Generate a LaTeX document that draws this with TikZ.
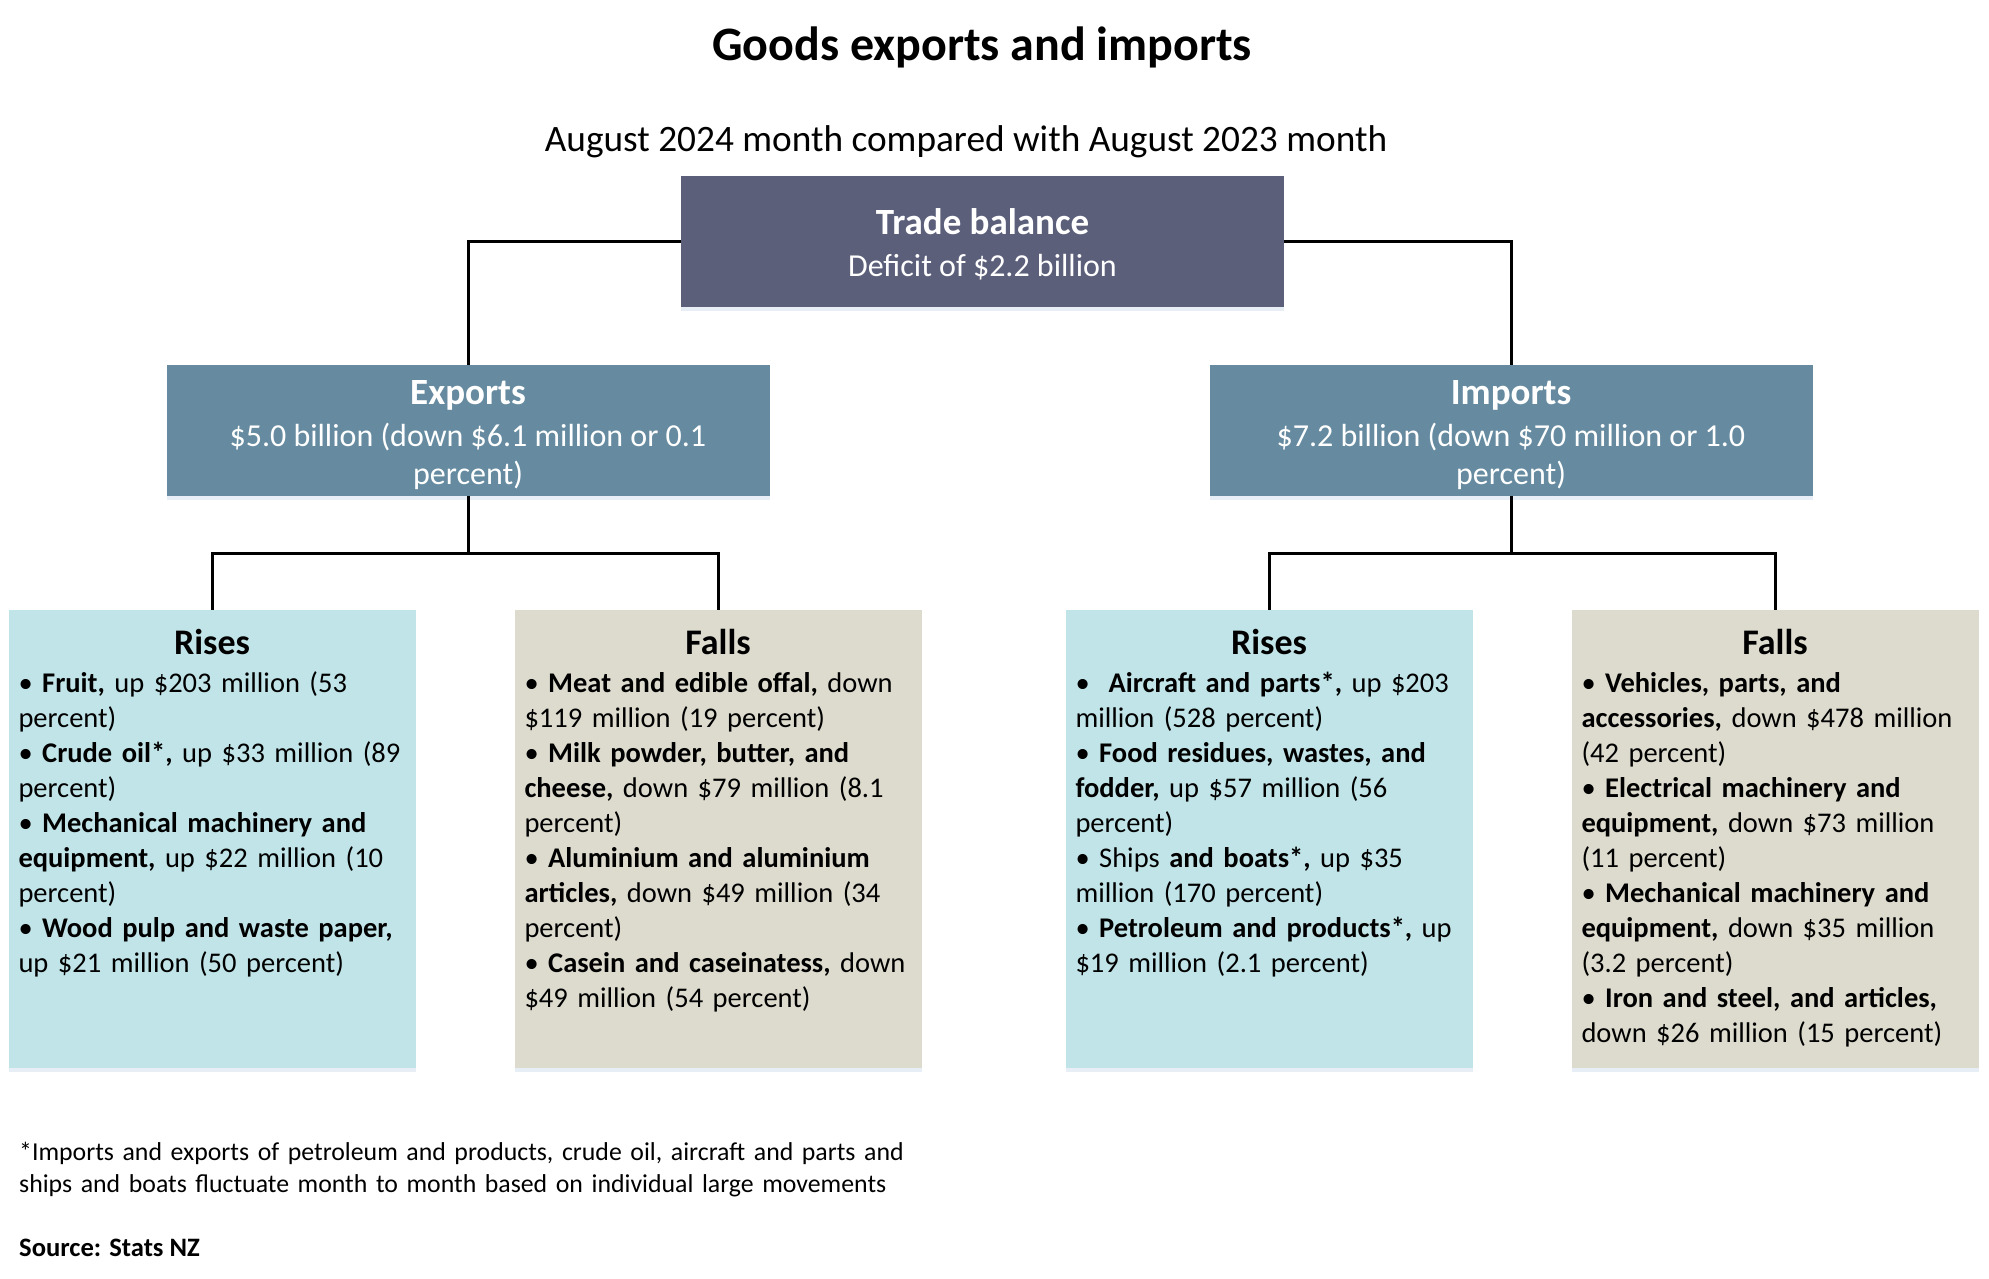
\documentclass[tikz,border=0pt]{standalone}
\usepackage{fontspec}
\setmainfont{Carlito}
\usetikzlibrary{positioning, calc, shadows}

\definecolor{tradeSlate}{HTML}{5B5F7A}
\definecolor{flowSteel}{HTML}{668BA0}
\definecolor{riseCyan}{HTML}{C0E4E8}
\definecolor{fallStone}{HTML}{DDDBCE}
\definecolor{glowBlue}{HTML}{B9CFE3}

\newcommand{\boxtitle}[1]{{\fontsize{37}{38}\selectfont\bfseries #1}}

\tikzset{
  boxglow/.style={drop shadow={shadow xshift=0pt, shadow yshift=-4pt, opacity=0.35, fill=glowBlue}},
  sumbox/.style={rectangle, fill=#1, boxglow, minimum width=603pt, minimum height=131pt, inner sep=0pt},
  sumtext/.style={inner sep=0pt, text=white, align=center, font=\fontsize{32}{38}\selectfont},
  listbox/.style={rectangle, fill=#1, boxglow, minimum width=407pt, minimum height=458pt, inner sep=0pt},
  boxhead/.style={anchor=base, inner sep=0pt, font=\fontsize{36}{43}\selectfont\bfseries},
  itemlist/.style={anchor=base west, inner sep=0pt, text width=398pt, align=left,
    font=\fontsize{28.5}{35}\selectfont},
  link/.style={draw=black, line width=3pt}
}

\begin{document}
\begin{tikzpicture}[x=1pt, y=-1pt]
    \useasboundingbox (0,0) rectangle (1989,1278);

    % Titles
    \node[anchor=base, inner sep=0pt, font=\fontsize{48}{58}\selectfont\bfseries] (title) at (982,60) {Goods exports and imports};
    \node[anchor=base, inner sep=0pt, font=\fontsize{37.3}{44}\selectfont] (subtitle) at (966,151) {August 2024 month compared with August 2023 month};

    % Summary boxes
    \node[sumbox=tradeSlate] (trade) at (982.5,241.5) {};
    \node[sumbox=flowSteel] (exports) at (468,430.5) {};
    \node[sumbox=flowSteel] (imports) at (1511,430.5) {};
    \node[sumtext] (tradeText) at ($(trade)+(0,3)$) {\boxtitle{Trade balance}\\[4pt] Deficit of \$2.2 billion};
    \node[sumtext] (exportsText) at ($(exports)+(0,4.5)$) {\boxtitle{Exports}\\[4pt] \$5.0 billion (down \$6.1 million or 0.1\\ percent)};
    \node[sumtext] (importsText) at ($(imports)+(0,4.5)$) {\boxtitle{Imports}\\[4pt] \$7.2 billion (down \$70 million or 1.0\\ percent)};

    % Detail boxes
    \node[listbox=riseCyan] (expRise) at (212,839) {};
    \node[listbox=fallStone] (expFall) at (718,839) {};
    \node[listbox=riseCyan] (impRise) at (1269,839) {};
    \node[listbox=fallStone] (impFall) at (1775,839) {};

    \node[boxhead] (expRiseHead) at ($(expRise.north)+(0,45)$) {Rises};
    \node[boxhead] (expFallHead) at ($(expFall.north)+(0,45)$) {Falls};
    \node[boxhead] (impRiseHead) at ($(impRise.north)+(0,45)$) {Rises};
    \node[boxhead] (impFallHead) at ($(impFall.north)+(0,45)$) {Falls};

    \node[itemlist] (expRiseList) at ($(expRise.north west)+(10,83)$) {%
      • \textbf{Fruit,} up \$203 million (53\\
      percent)\\
      • \textbf{Crude oil*,} up \$33 million (89\\
      percent)\\
      • \textbf{Mechanical machinery and}\\
      \textbf{equipment,} up \$22 million (10\\
      percent)\\
      • \textbf{Wood pulp and waste paper,}\\
      up \$21 million (50 percent)};
    \node[itemlist] (expFallList) at ($(expFall.north west)+(10,83)$) {%
      • \textbf{Meat and edible offal,} down\\
      \$119 million (19 percent)\\
      • \textbf{Milk powder, butter, and}\\
      \textbf{cheese,} down \$79 million (8.1\\
      percent)\\
      • \textbf{Aluminium and aluminium}\\
      \textbf{articles,} down \$49 million (34\\
      percent)\\
      • \textbf{Casein and caseinatess,} down\\
      \$49 million (54 percent)};
    \node[itemlist] (impRiseList) at ($(impRise.north west)+(10,83)$) {%
      •\ \ \textbf{Aircraft and parts*,} up \$203\\
      million (528 percent)\\
      • \textbf{Food residues, wastes, and}\\
      \textbf{fodder,} up \$57 million (56\\
      percent)\\
      • Ships \textbf{and boats*,} up \$35\\
      million (170 percent)\\
      • \textbf{Petroleum and products*,} up\\
      \$19 million (2.1 percent)};
    \node[itemlist] (impFallList) at ($(impFall.north west)+(10,83)$) {%
      • \textbf{Vehicles, parts, and}\\
      \textbf{accessories,} down \$478 million\\
      (42 percent)\\
      • \textbf{Electrical machinery and}\\
      \textbf{equipment,} down \$73 million\\
      (11 percent)\\
      • \textbf{Mechanical machinery and}\\
      \textbf{equipment,} down \$35 million\\
      (3.2 percent)\\
      • \textbf{Iron and steel, and articles,}\\
      down \$26 million (15 percent)};

    % Connectors
    \coordinate (expBar) at (468,553);
    \coordinate (impBar) at (1511,553);
    \draw[link] (trade.west) -| (exports.north);
    \draw[link] (trade.east) -| (imports.north);
    \draw[link] (exports.south) -- (expBar);
    \draw[link] (imports.south) -- (impBar);
    \draw[link] (expRise.north) |- (expBar) -| (expFall.north);
    \draw[link] (impRise.north) |- (impBar) -| (impFall.north);

    % Notes
    \node[anchor=base west, inner sep=0pt, text width=1000pt, align=left, font=\fontsize{25.8}{32}\selectfont] (footnote) at (19,1160)
      {*Imports and exports of petroleum and products, crude oil, aircraft and parts and\\
       ships and boats fluctuate month to month based on individual large movements};
    \node[anchor=base west, inner sep=0pt, font=\fontsize{26.6}{32}\selectfont\bfseries] (source) at (19,1256) {Source: Stats NZ};
\end{tikzpicture}
\end{document}
